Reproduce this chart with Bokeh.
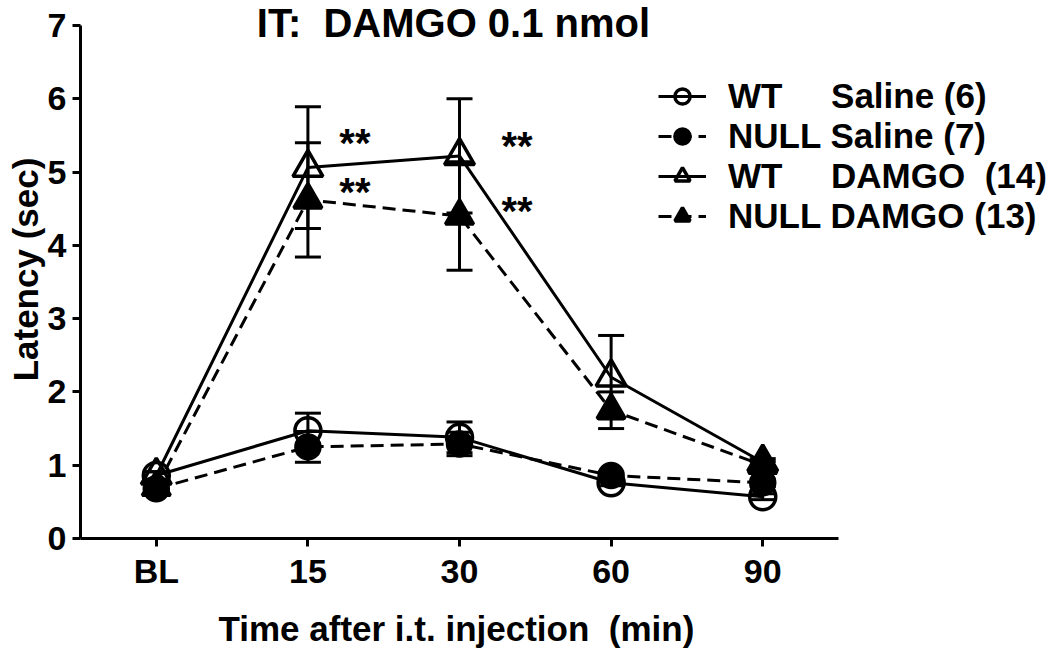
from bokeh.plotting import figure
from bokeh.models import (ColumnDataSource, Whisker, TeeHead, Legend, LegendItem,
                          Label, FixedTicker, Range1d, Title)
from bokeh.embed import file_html
from bokeh.resources import INLINE
from bokeh.core.properties import value

# ---------------- data ----------------
times = ["BL", "15", "30", "60", "90"]
xpos = [0, 1, 2, 3, 4]

wt_saline = [0.86, 1.47, 1.38, 0.76, 0.57]
wt_saline_sem = [0.05, 0.24, 0.21, 0.04, 0.04]
null_saline = [0.68, 1.25, 1.29, 0.86, 0.76]
null_saline_sem = [0.04, 0.21, 0.16, 0.05, 0.05]
wt_damgo = [0.86, 5.06, 5.22, 2.20, 1.04]
wt_damgo_sem = [0.05, 0.83, 0.78, 0.57, 0.05]
null_damgo = [0.70, 4.62, 4.40, 1.75, 1.00]
null_damgo_sem = [0.04, 0.78, 0.74, 0.25, 0.05]

series_labels = [
    "WT\u00a0\u00a0\u00a0\u00a0\u00a0Saline (6)",
    "NULL Saline (7)",
    "WT\u00a0\u00a0\u00a0\u00a0\u00a0DAMGO\u00a0 (14)",
    "NULL DAMGO (13)",
]

sig_x = [1.31, 1.31, 2.38, 2.38]
sig_y = [5.45, 4.78, 5.41, 4.52]
sig_text = ["**", "**", "**", "**"]

y_ticks = [0, 1, 2, 3, 4, 5, 6, 7]

FONT = "Liberation Sans"

# ---------------- figure ----------------
p = figure(width=1048, height=661,
           x_range=Range1d(-0.5, 5.885), y_range=Range1d(0, 7.34),
           output_backend="svg", toolbar_location=None,
           min_border_left=80, min_border_right=0,
           min_border_top=0, min_border_bottom=121)
p.grid.visible = False
p.outline_line_color = None
p.background_fill_color = "white"
p.border_fill_color = "white"

for ax in (p.xaxis[0], p.yaxis[0]):
    ax.axis_line_width = 3
    ax.axis_line_color = "black"
    ax.major_tick_line_width = 3
    ax.major_tick_line_color = "black"
    ax.major_tick_out = 8
    ax.major_tick_in = 0
    ax.minor_tick_line_color = None
    ax.major_label_text_font = FONT
    ax.major_label_text_font_style = "bold"
    ax.major_label_text_font_size = "34px"
    ax.major_label_text_color = "black"
    ax.axis_label_text_font = FONT
    ax.axis_label_text_font_style = "bold"
    ax.axis_label_text_font_size = "35px"
    ax.axis_label_text_color = "black"

p.xaxis.ticker = FixedTicker(ticks=xpos)
p.xaxis.bounds = (-0.5, 4.5)
p.xaxis.major_label_overrides = {x: t for x, t in zip(xpos, times)}
p.xaxis.major_label_standoff = 5

p.yaxis.ticker = FixedTicker(ticks=y_ticks)
p.yaxis.bounds = (0, 7)
p.yaxis.major_label_standoff = 6
p.yaxis.axis_label = "Latency (sec)"
p.yaxis.axis_label_standoff = 0

# x-axis title, left-aligned under the drawn axis
p.add_layout(Title(text="Time after i.t. injection\u00a0 (min)", align="left",
                   offset=138, standoff=28, text_font=FONT,
                   text_font_style="bold", text_font_size="35px",
                   text_color="black"), "below")

series = [
    (wt_saline, wt_saline_sem, "circle", False, "solid", 26),
    (null_saline, null_saline_sem, "circle", True, "13 7", 24),
    (wt_damgo, wt_damgo_sem, "triangle", False, "solid", 30),
    (null_damgo, null_damgo_sem, "triangle", True, "13 7", 28),
]

items = []
for (vals, sem, marker, filled, dash, size), lab in zip(series, series_labels):
    src = ColumnDataSource(dict(
        x=xpos, y=vals,
        upper=[v + s for v, s in zip(vals, sem)],
        lower=[v - s for v, s in zip(vals, sem)],
    ))
    lr = p.line("x", "y", source=src, line_color="black", line_width=3,
                line_dash=dash)
    wh = Whisker(base="x", upper="upper", lower="lower", source=src,
                 line_color="black", line_width=3,
                 upper_head=TeeHead(size=26, line_width=3, line_color="black"),
                 lower_head=TeeHead(size=26, line_width=3, line_color="black"))
    p.add_layout(wh)
    sr = p.scatter("x", "y", source=src, marker=marker, size=size,
                   fill_color="black" if filled else None,
                   line_color="black", line_width=3.5)
    items.append(LegendItem(label=lab, renderers=[lr, sr]))

# significance marks
sig_src = ColumnDataSource(dict(x=sig_x, y=sig_y, t=sig_text))
p.text("x", "y", text="t", source=sig_src, text_font=value(FONT),
       text_font_style="bold", text_font_size="40px", text_color="black",
       text_align="center", text_baseline="middle", y_offset=4)

# title
p.add_layout(Label(x=1.96, y=7.03, text="IT:\u00a0 DAMGO 0.1 nmol",
                   text_font=FONT, text_font_style="bold",
                   text_font_size="40px", text_color="black",
                   text_align="center", text_baseline="middle"))

legend = Legend(items=items, location=(578, 302),
                glyph_width=48, glyph_height=38, label_height=38, spacing=0,
                label_standoff=22, padding=0, margin=0,
                border_line_alpha=0, background_fill_alpha=0,
                label_text_font=FONT, label_text_font_style="bold",
                label_text_font_size="35px", label_text_color="black")
p.add_layout(legend)

open("out.html", "w").write(file_html(p, INLINE))
